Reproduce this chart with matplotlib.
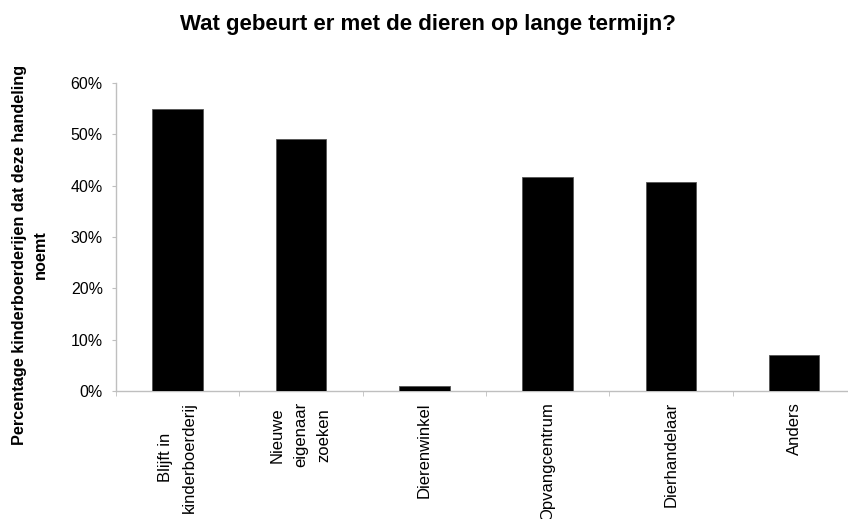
import matplotlib
matplotlib.use("Agg")
import matplotlib.pyplot as plt
import numpy as np
from matplotlib.ticker import FixedLocator, PercentFormatter

categories = ["Blijft in\nkinderboerderij", "Nieuwe\neigenaar\nzoeken", "Dierenwinkel",
              "Opvangcentrum", "Dierhandelaar", "Anders"]
values = [55.0, 49.0, 1.0, 41.6, 40.7, 7.1]
yticks = [0, 10, 20, 30, 40, 50, 60]

plt.rcParams['font.family'] = ['Liberation Sans', 'DejaVu Sans']

W, H = 848, 519
fig = plt.figure(figsize=(W/100, H/100), dpi=100)
left, right, top, bottom = 116, 848, 83, 391
ax = fig.add_axes([left/W, (H-bottom)/H, (right-left)/W, (bottom-top)/H])

x = np.arange(len(categories))
ax.bar(x, values, width=0.41, color='black', edgecolor='#555555', linewidth=0.6, zorder=3)

ax.set_ylim(0, 60)
ax.set_xlim(-0.5, -0.5 + (right-left)/123.3)
ax.set_yticks(yticks)
ax.yaxis.set_major_formatter(PercentFormatter(decimals=0))
ax.set_xticks(x)
ax.set_xticklabels(categories, rotation=90, ha='center', va='top', multialignment='center',
                   fontsize=12, linespacing=1.7)
ax.xaxis.set_minor_locator(FixedLocator(np.arange(-0.5, len(categories), 1.0)))
ax.tick_params(axis='x', which='major', length=0, pad=8)
ax.tick_params(axis='x', which='minor', length=3.6, color='#bfbfbf', direction='out')
ax.tick_params(axis='y', length=3, color='#bfbfbf', direction='out', labelsize=11.5, pad=6.5)

for s in ['top', 'right']:
    ax.spines[s].set_visible(False)
for s in ['left', 'bottom']:
    ax.spines[s].set_color('#bfbfbf')
    ax.spines[s].set_linewidth(1.0)

ax.set_ylabel("Percentage kinderboerderijen dat deze handeling\nnoemt", fontsize=11.7,
              fontweight='bold', multialignment='center', linespacing=1.5, va='center')
ax.yaxis.set_label_coords((30 - left) / (right - left), (bottom - 255) / (bottom - top))
fig.text(428/W, 1 - 30/H, "Wat gebeurt er met de dieren op lange termijn?", ha='center', va='baseline',
         fontsize=16, fontweight='bold')

fig.savefig("out.png", dpi=100)
